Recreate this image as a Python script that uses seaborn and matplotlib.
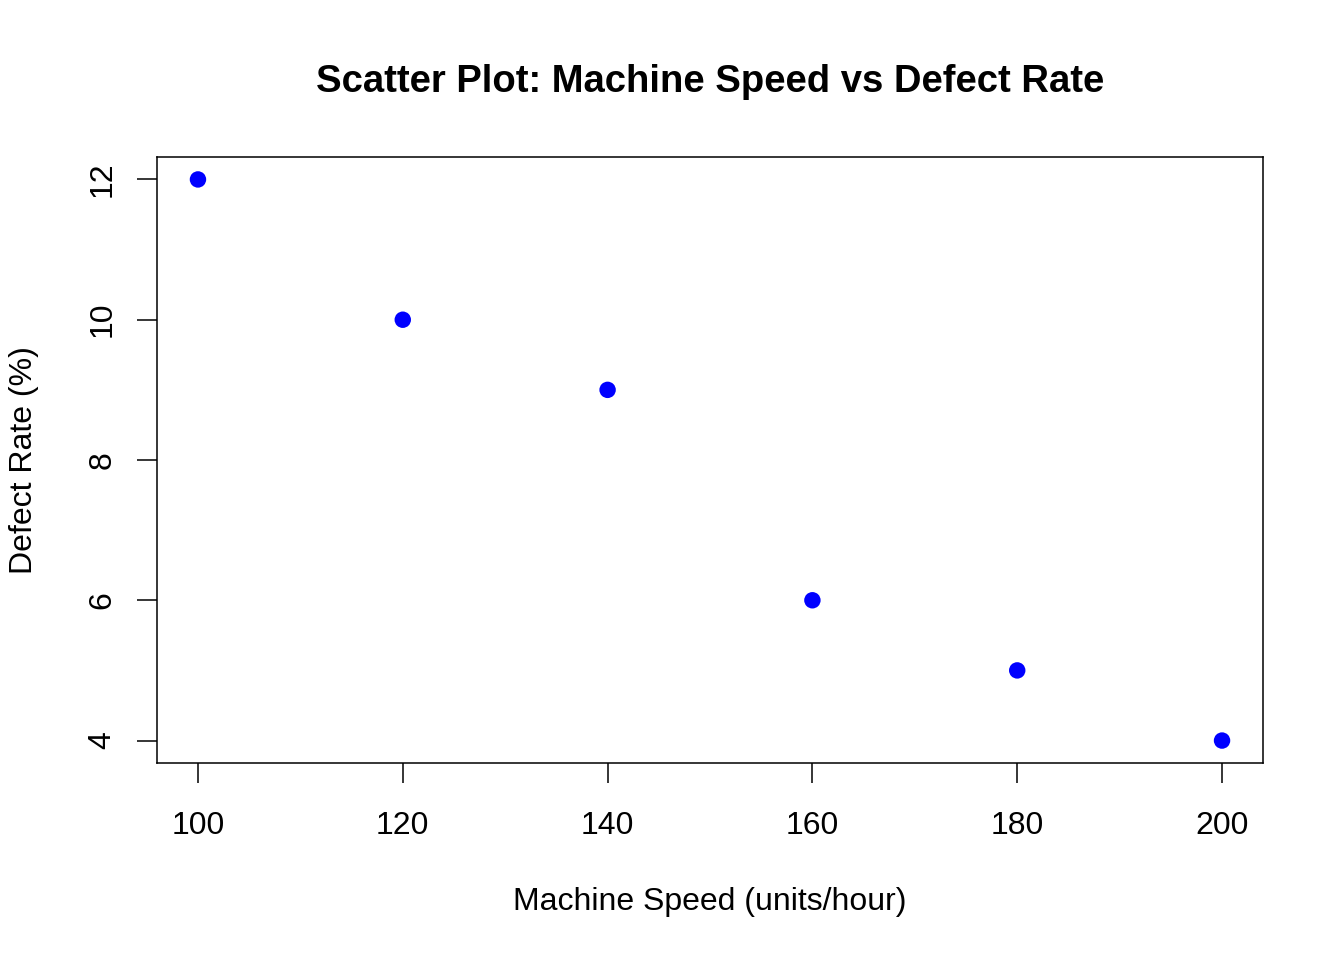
import seaborn as sns
import pandas as pd
import numpy as np
import matplotlib
matplotlib.use('Agg')
import matplotlib.pyplot as plt

# data
speed = [100, 120, 140, 160, 180, 200]
defect_rate = [12, 10, 9, 6, 5, 4]
x_ticks = [100, 120, 140, 160, 180, 200]
y_ticks = [4, 6, 8, 10, 12]

data = pd.DataFrame({'speed': speed, 'defect': defect_rate})

sns.set_style('white')
plt.rcParams['font.family'] = ['Liberation Sans', 'DejaVu Sans']
plt.rcParams['text.color'] = 'black'
plt.rcParams['axes.labelcolor'] = 'black'

fig = plt.figure(figsize=(13.44, 9.6), dpi=100)
ax = fig.add_axes([157/1344, 1 - 763/960, 1106/1344, 606/960])

sns.scatterplot(x='speed', y='defect', data=data, ax=ax, color='#0000FF',
                s=140, edgecolor='none', linewidth=0)

# R style 4% padding on the ranges
xr = max(speed) - min(speed)
yr = max(defect_rate) - min(defect_rate)
ax.set_xlim(min(speed) - 0.04*xr, max(speed) + 0.04*xr)
ax.set_ylim(min(defect_rate) - 0.04*yr, max(defect_rate) + 0.04*yr)

ax.set_xticks(x_ticks)
ax.set_yticks(y_ticks)
ax.set_yticklabels([str(v) for v in y_ticks], rotation=90, va='center')
ax.tick_params(axis='both', direction='out', length=14.5, width=1.1,
               color='black', labelsize=23, labelcolor='black',
               bottom=True, left=True)
ax.tick_params(axis='x', pad=20)
ax.tick_params(axis='y', pad=14)

for sp in ax.spines.values():
    sp.set_visible(True)
    sp.set_color('black')
    sp.set_linewidth(1.1)

ax.set_xlabel('Machine Speed (units/hour)', fontsize=23, va='center', color='black')
ax.xaxis.set_label_coords(0.5, (763 - 902) / 606)
ax.set_ylabel('Defect Rate (%)', fontsize=23, va='center', color='black')
ax.yaxis.set_label_coords((24 - 157) / 1106, 0.5)
ax.set_title('Scatter Plot: Machine Speed vs Defect Rate', fontsize=27.5,
             fontweight='bold', y=1 + 67/606, va='center', color='black')

fig.savefig('out.png', dpi=100)
